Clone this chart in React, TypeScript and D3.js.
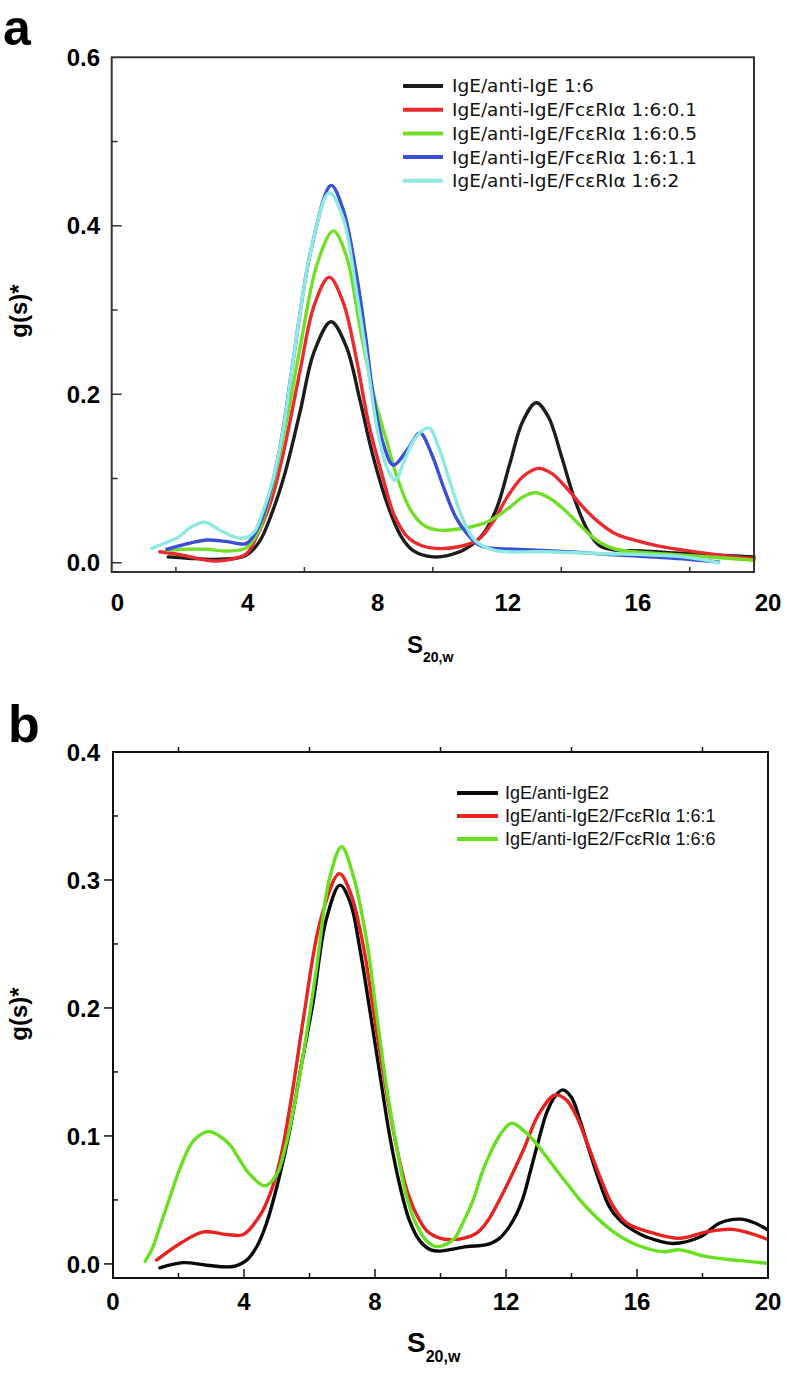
import React from "react";
import * as d3 from "d3";

type Pt = [number, number];

// ---------- Panel a data (x = S20,w, y = g(s)*) ----------
const A_LABELS = [
  "IgE/anti-IgE 1:6",
  "IgE/anti-IgE/FcεRIα 1:6:0.1",
  "IgE/anti-IgE/FcεRIα 1:6:0.5",
  "IgE/anti-IgE/FcεRIα 1:6:1.1",
  "IgE/anti-IgE/FcεRIα 1:6:2",
];
const A_COLORS = ["#1c1c1c", "#ec2a2e", "#72de2a", "#3a4ed6", "#8ee9e3"];

const A_BLACK: Pt[] = [
  [1.76, 0.007], [2.5, 0.005], [3.16, 0.004], [3.8, 0.005], [4.2, 0.009], [4.6, 0.025],
  [5.0, 0.06], [5.4, 0.107], [5.87, 0.18], [6.3, 0.25], [6.83, 0.286], [7.3, 0.257],
  [7.73, 0.193], [8.1, 0.132], [8.58, 0.07], [9.0, 0.032], [9.4, 0.014], [10.0, 0.007],
  [10.6, 0.01], [11.05, 0.017], [11.6, 0.036], [12.0, 0.066], [12.4, 0.118], [12.8, 0.168],
  [13.22, 0.19], [13.6, 0.173], [14.0, 0.127], [14.4, 0.077], [14.8, 0.04], [15.2, 0.02],
  [15.7, 0.015], [16.5, 0.014], [17.8, 0.011], [20.0, 0.007],
];
const A_RED: Pt[] = [
  [1.5, 0.013], [2.2, 0.009], [2.8, 0.004], [3.3, 0.002], [3.8, 0.005], [4.2, 0.011],
  [4.6, 0.038], [5.0, 0.078], [5.4, 0.14], [5.87, 0.229], [6.3, 0.305], [6.77, 0.339],
  [7.2, 0.31], [7.63, 0.24], [8.0, 0.165], [8.45, 0.1], [8.8, 0.056], [9.2, 0.031],
  [9.6, 0.021], [10.1, 0.017], [10.8, 0.019], [11.4, 0.027], [11.9, 0.05], [12.3, 0.077],
  [12.8, 0.102], [13.28, 0.112], [13.7, 0.106], [14.18, 0.088], [14.7, 0.065], [15.2, 0.047],
  [15.7, 0.034], [16.25, 0.027], [17.0, 0.02], [17.8, 0.015], [19.4, 0.007], [20.0, 0.005],
];
const A_GREEN: Pt[] = [
  [1.72, 0.015], [2.4, 0.016], [2.97, 0.016], [3.6, 0.014], [4.2, 0.018], [4.6, 0.04],
  [5.0, 0.09], [5.4, 0.16], [5.87, 0.256], [6.4, 0.355], [6.9, 0.394], [7.3, 0.365],
  [7.73, 0.28], [8.15, 0.2], [8.58, 0.142], [8.9, 0.1], [9.3, 0.063], [9.7, 0.045],
  [10.1, 0.039], [10.8, 0.04], [11.6, 0.047], [12.0, 0.055], [12.4, 0.066], [12.8, 0.078],
  [13.2, 0.083], [13.7, 0.075], [14.2, 0.059], [14.7, 0.04], [15.2, 0.024], [15.7, 0.016],
  [16.25, 0.013], [17.8, 0.009], [20.0, 0.003],
];
const A_BLUE: Pt[] = [
  [1.72, 0.016], [2.3, 0.022], [2.97, 0.027], [3.6, 0.025], [4.2, 0.023], [4.6, 0.045],
  [4.93, 0.083], [5.3, 0.15], [5.65, 0.24], [6.2, 0.37], [6.83, 0.448], [7.2, 0.42],
  [7.63, 0.34], [7.9, 0.27], [8.14, 0.2], [8.45, 0.142], [8.77, 0.116], [9.2, 0.134],
  [9.6, 0.154], [9.95, 0.13], [10.33, 0.09], [10.7, 0.055], [11.05, 0.035], [11.4, 0.022],
  [11.7, 0.018], [12.5, 0.016], [14.2, 0.013], [15.8, 0.009], [17.3, 0.006], [18.9, 0.001],
];
const A_CYAN: Pt[] = [
  [1.25, 0.017], [1.7, 0.024], [2.1, 0.031], [2.5, 0.043], [2.9, 0.048], [3.4, 0.038],
  [4.0, 0.029], [4.4, 0.035], [4.7, 0.06], [5.03, 0.1], [5.35, 0.16], [5.65, 0.24],
  [6.2, 0.37], [6.77, 0.439], [7.2, 0.41], [7.63, 0.32], [7.95, 0.24], [8.26, 0.16],
  [8.55, 0.115], [8.83, 0.098], [9.1, 0.12], [9.45, 0.148], [9.87, 0.16], [10.2, 0.135],
  [10.5, 0.1], [10.9, 0.055], [11.3, 0.027], [11.9, 0.015], [13.5, 0.013], [15.2, 0.011],
  [17.8, 0.007], [18.9, 0.0],
];
const A_SERIES = [A_BLACK, A_RED, A_GREEN, A_BLUE, A_CYAN];

const A_X_TICKS = [2, 6, 10, 14, 18];
const A_X_LABELS = [0, 4, 8, 12, 16, 20];
const A_Y_MAJOR = [0, 0.2, 0.4];
const A_Y_MINOR = [0.1, 0.3, 0.5];
const A_Y_LABELS = [0, 0.2, 0.4, 0.6];

// ---------- Panel b data ----------
const B_LABELS = [
  "IgE/anti-IgE2",
  "IgE/anti-IgE2/FcεRIα 1:6:1",
  "IgE/anti-IgE2/FcεRIα 1:6:6",
];
const B_COLORS = ["#0a0a0a", "#e8231f", "#66e021"];

const B_BLACK: Pt[] = [
  [1.43, -0.003], [2.15, 0.001], [2.86, -0.001], [3.67, -0.002], [4.08, 0.003], [4.4, 0.014],
  [4.69, 0.032], [5.05, 0.065], [5.4, 0.105], [5.75, 0.155], [6.12, 0.206], [6.5, 0.268],
  [6.93, 0.296], [7.25, 0.282], [7.54, 0.246], [7.85, 0.197], [8.15, 0.148], [8.45, 0.1],
  [8.76, 0.061], [9.05, 0.034], [9.37, 0.018], [9.7, 0.011], [9.98, 0.01], [10.8, 0.0135],
  [11.4, 0.015], [11.8, 0.02], [12.22, 0.034], [12.5, 0.05], [12.73, 0.071], [13.0, 0.097],
  [13.24, 0.118], [13.5, 0.131], [13.73, 0.136], [14.0, 0.13], [14.26, 0.112], [14.55, 0.088],
  [14.87, 0.063], [15.15, 0.045], [15.48, 0.034], [15.9, 0.026], [16.3, 0.021], [17.1, 0.016],
  [17.92, 0.021], [18.53, 0.032], [19.15, 0.035], [19.6, 0.032], [19.96, 0.027],
];
const B_RED: Pt[] = [
  [1.33, 0.003], [2.05, 0.016], [2.76, 0.025], [3.47, 0.023], [3.98, 0.023], [4.49, 0.038],
  [4.8, 0.055], [5.1, 0.081], [5.45, 0.13], [5.81, 0.191], [6.35, 0.27], [6.91, 0.305],
  [7.25, 0.29], [7.64, 0.249], [8.0, 0.19], [8.36, 0.133], [8.67, 0.09], [8.97, 0.058],
  [9.28, 0.038], [9.58, 0.026], [10.0, 0.02], [10.3, 0.019], [10.7, 0.02], [11.1, 0.024],
  [11.45, 0.034], [11.8, 0.05], [12.15, 0.068], [12.53, 0.089], [13.0, 0.117], [13.5, 0.132],
  [13.85, 0.128], [14.16, 0.115], [14.5, 0.093], [14.87, 0.068], [15.25, 0.046], [15.68, 0.032],
  [16.5, 0.024], [17.3, 0.02], [18.13, 0.025], [18.94, 0.027], [19.96, 0.0195],
];
const B_GREEN: Pt[] = [
  [0.98, 0.002], [1.2, 0.012], [1.43, 0.029], [1.75, 0.053], [2.05, 0.075], [2.45, 0.096],
  [2.91, 0.1035], [3.25, 0.1], [3.57, 0.093], [3.9, 0.08], [4.18, 0.07], [4.64, 0.061],
  [5.0, 0.07], [5.25, 0.09], [5.5, 0.119], [5.85, 0.17], [6.22, 0.232], [6.6, 0.3],
  [6.98, 0.326], [7.35, 0.302], [7.75, 0.252], [8.05, 0.195], [8.36, 0.137], [8.67, 0.09],
  [8.97, 0.052], [9.28, 0.03], [9.58, 0.018], [9.9, 0.0135], [10.39, 0.019], [10.7, 0.033],
  [11.0, 0.05], [11.25, 0.07], [11.51, 0.086], [11.85, 0.102], [12.17, 0.11], [12.5, 0.105],
  [12.83, 0.097], [13.2, 0.085], [13.55, 0.073], [13.95, 0.06], [14.36, 0.047], [15.18, 0.027],
  [15.89, 0.016], [16.8, 0.0096], [17.3, 0.011], [18.13, 0.0057], [19.15, 0.0026], [19.96, 0.0005],
];
const B_SERIES = [B_BLACK, B_RED, B_GREEN];

const B_X_MAJOR = [4, 8, 12, 16];
const B_X_MINOR = [2, 6, 10, 14, 18];
const B_X_LABELS = [0, 4, 8, 12, 16, 20];
const B_Y_MAJOR = [0, 0.1, 0.2, 0.3];
const B_Y_MINOR = [0.05, 0.15, 0.25, 0.35];
const B_Y_LABELS = [0, 0.1, 0.2, 0.3, 0.4];

const TICK_FONT = "'Liberation Sans', Arial, sans-serif";
const fmt = d3.format(".1f");

function PanelA() {
  const x = d3.scaleLinear().domain([0, 20]).range([111.7, 754]);
  const xLab = d3.scaleLinear().domain([0, 20]).range([117.5, 768]);
  const y = d3.scaleLinear().domain([-0.011, 0.6]).range([572, 57.3]);
  const line = d3
    .line<Pt>()
    .x((d) => x(d[0]))
    .y((d) => y(d[1]))
    .curve(d3.curveCatmullRom.alpha(0.5));
  const [x0, x1] = x.range();
  const [yb, yt] = y.range();
  const frame = "#333";
  return (
    <g>
      <text x={3} y={45} fontFamily={TICK_FONT} fontWeight="bold" fontSize={50}>a</text>
      {A_SERIES.map((s, i) => (
        <path key={i} d={line(s) || ""} fill="none" stroke={A_COLORS[i]} strokeWidth={3.4} strokeLinejoin="round" strokeLinecap="round" />
      ))}
      <rect x={x0} y={yt} width={x1 - x0} height={yb - yt} fill="none" stroke={frame} strokeWidth={2} />
      {A_X_TICKS.map((t) => (
        <line key={t} x1={x(t)} x2={x(t)} y1={yb} y2={yb - 5} stroke={frame} strokeWidth={1.5} />
      ))}
      {A_Y_MAJOR.map((t) => (
        <line key={t} x1={x0} x2={x0 + 10} y1={y(t)} y2={y(t)} stroke={frame} strokeWidth={1.5} />
      ))}
      {A_Y_MINOR.map((t) => (
        <line key={t} x1={x0} x2={x0 + 6} y1={y(t)} y2={y(t)} stroke={frame} strokeWidth={1.5} />
      ))}
      {A_X_LABELS.map((t) => (
        <text key={t} x={xLab(t)} y={611} textAnchor="middle" fontFamily={TICK_FONT} fontWeight="bold" fontSize={24}>{t}</text>
      ))}
      {A_Y_LABELS.map((t) => (
        <text key={t} x={100} y={y(t)} dy="0.36em" textAnchor="end" fontFamily={TICK_FONT} fontWeight="bold" fontSize={24}>{fmt(t)}</text>
      ))}
      <text transform="translate(27,311) rotate(-90)" textAnchor="middle" fontFamily={TICK_FONT} fontWeight="bold" fontSize={24}>g(s)*</text>
      <text x={407} y={653} fontFamily={TICK_FONT} fontWeight="bold" fontSize={24}>
        S<tspan fontSize={14} dy={9}>20,w</tspan>
      </text>
      {A_LABELS.map((lab, i) => {
        const cy = 86 + i * 23.7;
        return (
          <g key={lab}>
            <line x1={403} x2={443} y1={cy} y2={cy} stroke={A_COLORS[i]} strokeWidth={4} />
            <text x={452} y={cy} dy="0.35em" fontFamily="'DejaVu Sans', sans-serif" fontSize={18.5} fill="#111">{lab}</text>
          </g>
        );
      })}
    </g>
  );
}

function PanelB() {
  const x = d3.scaleLinear().domain([0, 20]).range([113, 768]);
  const y = d3.scaleLinear().domain([-0.011, 0.4]).range([1278, 752]);
  const line = d3
    .line<Pt>()
    .x((d) => x(d[0]))
    .y((d) => y(d[1]))
    .curve(d3.curveCatmullRom.alpha(0.5));
  const [x0, x1] = x.range();
  const [yb, yt] = y.range();
  const frame = "#111";
  return (
    <g>
      <text x={8} y={742} fontFamily={TICK_FONT} fontWeight="bold" fontSize={52}>b</text>
      {B_SERIES.map((s, i) => (
        <path key={i} d={line(s) || ""} fill="none" stroke={B_COLORS[i]} strokeWidth={3.4} strokeLinejoin="round" strokeLinecap="round" />
      ))}
      <rect x={x0} y={yt} width={x1 - x0} height={yb - yt} fill="none" stroke={frame} strokeWidth={2} />
      {B_X_MAJOR.map((t) => (
        <line key={t} x1={x(t)} x2={x(t)} y1={yb} y2={yb - 9} stroke={frame} strokeWidth={1.5} />
      ))}
      {B_X_MINOR.map((t) => (
        <line key={t} x1={x(t)} x2={x(t)} y1={yb} y2={yb - 5} stroke={frame} strokeWidth={1.5} />
      ))}
      {B_X_MINOR.map((t) => (
        <line key={"top" + t} x1={x(t)} x2={x(t)} y1={yt} y2={yt - 5} stroke={frame} strokeWidth={1.5} />
      ))}
      {B_Y_MAJOR.map((t) => (
        <line key={t} x1={x0 - 9} x2={x0} y1={y(t)} y2={y(t)} stroke={frame} strokeWidth={1.5} />
      ))}
      {B_Y_MINOR.map((t) => (
        <line key={t} x1={x0} x2={x0 + 5} y1={y(t)} y2={y(t)} stroke={frame} strokeWidth={1.5} />
      ))}
      {B_X_LABELS.map((t) => (
        <text key={t} x={x(t)} y={1310} textAnchor="middle" fontFamily={TICK_FONT} fontWeight="bold" fontSize={24}>{t}</text>
      ))}
      {B_Y_LABELS.map((t) => (
        <text key={t} x={100} y={y(t)} dy="0.36em" textAnchor="end" fontFamily={TICK_FONT} fontWeight="bold" fontSize={24}>{fmt(t)}</text>
      ))}
      <text transform="translate(27,1014) rotate(-90)" textAnchor="middle" fontFamily={TICK_FONT} fontWeight="bold" fontSize={24}>g(s)*</text>
      <text x={407} y={1352} fontFamily={TICK_FONT} fontWeight="bold" fontSize={28}>
        S<tspan fontSize={16} dy={10}>20,w</tspan>
      </text>
      {B_LABELS.map((lab, i) => {
        const cy = 793 + i * 23;
        return (
          <g key={lab}>
            <line x1={457} x2={498} y1={cy} y2={cy} stroke={B_COLORS[i]} strokeWidth={4} />
            <text x={505} y={cy} dy="0.36em" fontFamily={TICK_FONT} fontSize={18} fill="#111">{lab}</text>
          </g>
        );
      })}
    </g>
  );
}

export default function App() {
  return (
    <svg
      width={786}
      height={1376}
      viewBox="0 0 786 1376"
      style={{ position: "absolute", left: 0, top: 0, background: "#fff" }}
    >
      <rect x={0} y={0} width={786} height={1376} fill="#fff" />
      <PanelA />
      <PanelB />
    </svg>
  );
}
